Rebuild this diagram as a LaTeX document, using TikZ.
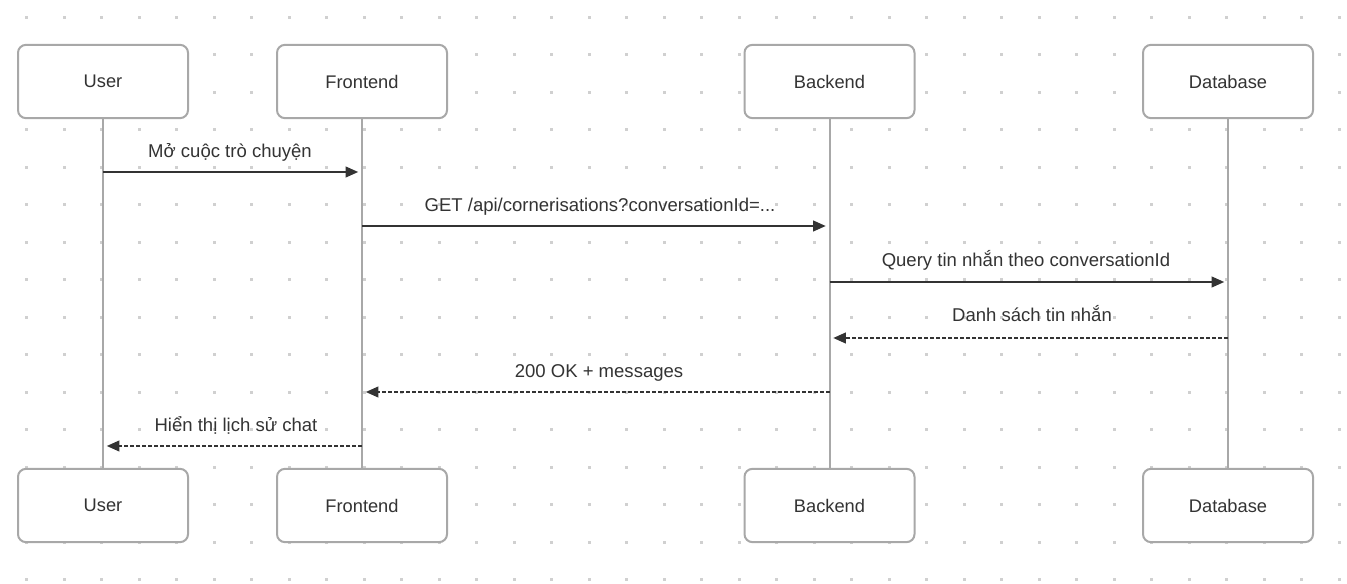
\documentclass[tikz,border=0pt]{standalone}
\usepackage{fontspec}
\setmainfont{Liberation Sans}
\usetikzlibrary{arrows.meta}
\definecolor{dotc}{RGB}{208,208,208}
\definecolor{boxc}{RGB}{168,168,168}
\definecolor{inkc}{RGB}{51,51,51}
\tikzset{
  pbox/.style={draw=boxc, line width=1.5pt, fill=white, rounded corners=6pt,
    minimum width=127.5pt, minimum height=55pt, inner sep=0pt,
    text=inkc, font=\fontsize{13.7}{16}\selectfont},
  lifeline/.style={draw=boxc, line width=1.5pt},
  msg/.style={draw=inkc, line width=1.6pt, shorten >=2.8pt,
    -{Triangle[length=9.5pt,width=8pt]}},
  reply/.style={msg, dash pattern=on 3pt off 1.5pt},
  lbl/.style={text=inkc, font=\fontsize{13.9}{16}\selectfont, anchor=base, inner sep=0pt}
}
\begin{document}
\begin{tikzpicture}[x=0.75pt,y=-0.75pt]
\fill[white] (0,0) rectangle (1347,584);
\useasboundingbox (0,0) rectangle (1347,584);
% dot grid
\foreach \i in {0,...,35}{
  \foreach \j in {0,...,15}{
    \fill[dotc] ({26.7+37.5*\i-1.6},{17.3+37.5*\j-1.6}) rectangle ++(3.2,3.2);
  }
}
% participants
\node[pbox] (ut) at (103,81.5) {User};
\node[pbox] (ft) at (362,81.5) {Frontend};
\node[pbox] (bt) at (829.5,81.5) {Backend};
\node[pbox] (dt) at (1228,81.5) {Database};
\node[pbox] (ub) at (103,505.5) {User};
\node[pbox] (fb) at (362,505.5) {Frontend};
\node[pbox] (bb) at (829.5,505.5) {Backend};
\node[pbox] (db) at (1228,505.5) {Database};
% lifelines
\draw[lifeline] (ut.south) -- (ub.north);
\draw[lifeline] (ft.south) -- (fb.north);
\draw[lifeline] (bt.south) -- (bb.north);
\draw[lifeline] (dt.south) -- (db.north);
% messages
\draw[msg] (ut |- 0,172) -- (ft |- 0,172);
\node[lbl] (l1) at (230,158) {Mở cuộc trò chuyện};
\draw[msg] (ft |- 0,226) -- (bt |- 0,226);
\node[lbl] (l2) at (600,212) {GET /api/cornerisations?conversationId=...};
\draw[msg] (bt |- 0,282) -- (dt |- 0,282);
\node[lbl] (l3) at (1026,266.5) {Query tin nhắn theo conversationId};
\draw[reply] (dt |- 0,338) -- (bt |- 0,338);
\node[lbl] (l4) at (1032,322) {Danh sách tin nhắn};
\draw[reply] (bt |- 0,392) -- (ft |- 0,392);
\node[lbl] (l5) at (599,378) {200 OK + messages};
\draw[reply] (ft |- 0,446) -- (ut |- 0,446);
\node[lbl] (l6) at (236,432) {Hiển thị lịch sử chat};
\end{tikzpicture}
\end{document}
